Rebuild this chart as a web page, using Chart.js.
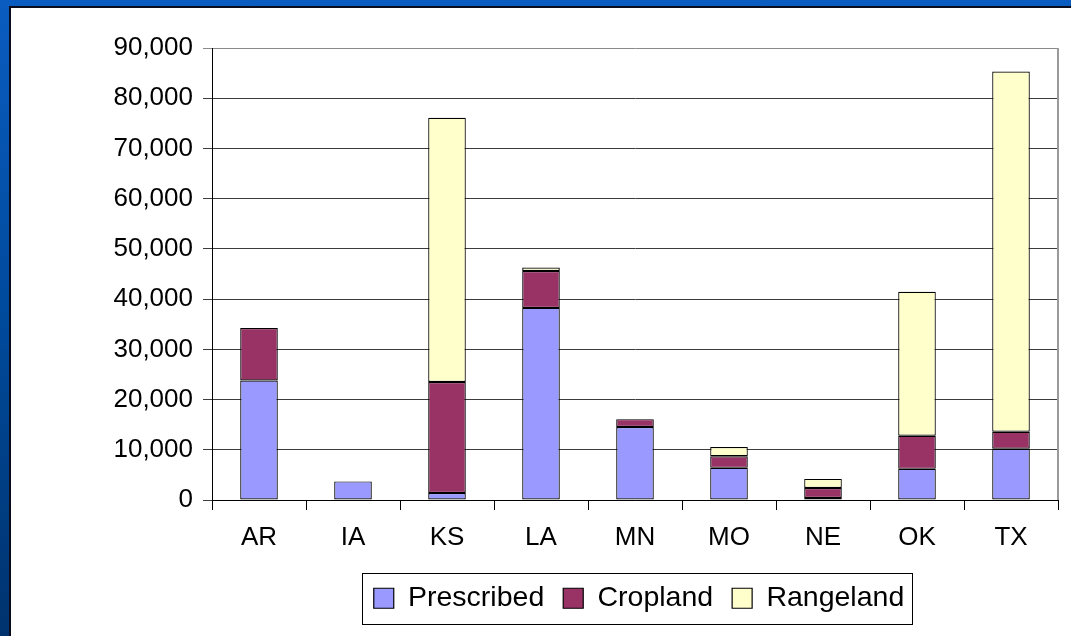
<!DOCTYPE html>
<html>
<head>
<meta charset="utf-8">
<script src="https://cdn.jsdelivr.net/npm/chart.js@4"></script>
<style>
  html, body { margin: 0; padding: 0; }
  body {
    width: 1071px; height: 636px; overflow: hidden;
    background: linear-gradient(to bottom, #0a5cc0 0%, #004a9c 50%, #00336e 100%);
    position: relative;
  }
  #panel {
    position: absolute; left: 9px; top: 6px;
    width: 1062px; height: 630px;
    border-left: 2px solid #0b0b1e; border-top: 2px solid #0b0b1e;
    box-sizing: border-box; background: #fff;
  }
  #chart { display: block; }
</style>
</head>
<body>
<div id="panel">
  <canvas id="chart" width="1060" height="628"></canvas>
</div>
<script>
// States on the x axis
const states = ['AR', 'IA', 'KS', 'LA', 'MN', 'MO', 'NE', 'OK', 'TX'];

// Acres burned by type, null = nothing drawn
const prescribed = [23800, 3700, 1400, 38250, 14550, 6400, 400, 6200, 10200];
const cropland   = [10450, null, 22100, 7350, 1550, 2300, 2000, 6600, 3400];
const rangeland  = [null, null, 52600, 700, null, 1850, 1800, 28650, 71700];

// y axis ticks
const yMax = 90000;
const yStep = 10000;

const font = { family: "'Liberation Sans', Arial, sans-serif", size: 26 };

// draws the gray plot frame on the right and the box around the legend
const framePlugin = {
  id: 'frame',
  afterLayout(chart) {
    // legend sits a little right of the plot centre
    chart.legend.left += 4;
    chart.legend.right += 4;
  },
  afterDraw(chart) {
    const { ctx, chartArea } = chart;
    ctx.save();
    ctx.strokeStyle = '#9a9a9a';
    ctx.lineWidth = 2;
    ctx.beginPath();
    ctx.moveTo(chartArea.right, chartArea.top);
    ctx.lineTo(chartArea.right, chartArea.bottom);
    ctx.stroke();

    const boxes = chart.legend.legendHitBoxes;
    if (boxes && boxes.length) {
      const left = Math.min(...boxes.map(b => b.left)) - 12;
      const right = Math.max(...boxes.map(b => b.left + b.width)) + 8;
      const top = boxes[0].top - 11;
      const bottom = boxes[0].top + boxes[0].height + 11;
      ctx.strokeStyle = '#000';
      ctx.lineWidth = 1;
      ctx.strokeRect(Math.round(left) + 0.5, Math.round(top) + 0.5,
        Math.round(right - left), Math.round(bottom - top));
    }
    ctx.restore();
  }
};

const makeSet = (label, data, color) => ({
  label: label,
  data: data,
  backgroundColor: color,
  borderColor: '#000',
  borderWidth: 1.2,
  borderSkipped: false,
  barPercentage: 0.4,
  categoryPercentage: 1
});

new Chart(document.getElementById('chart'), {
  type: 'bar',
  data: {
    labels: states,
    datasets: [
      makeSet('Prescribed', prescribed, '#9999ff'),
      makeSet('Cropland', cropland, '#993366'),
      makeSet('Rangeland', rangeland, '#ffffcc')
    ]
  },
  plugins: [framePlugin],
  options: {
    responsive: false,
    animation: false,
    layout: { padding: { top: 40, right: 13, bottom: 13.5, left: 0 } },
    scales: {
      x: {
        stacked: true,
        offset: true,
        grid: {
          offset: true,
          drawOnChartArea: false,
          color: '#000',
          tickLength: 10
        },
        border: { color: '#000', width: 1 },
        ticks: { color: '#000', font: font, padding: 12, maxRotation: 0 },
        afterFit(scale) { scale.height = 65; }
      },
      y: {
        stacked: true,
        min: 0,
        max: yMax,
        grid: {
          color: ctx => ctx.index === 9 ? '#8a8a8a' : '#3c3c3c',
          lineWidth: 1,
          tickLength: 9
        },
        border: { color: '#000', width: 1 },
        ticks: {
          stepSize: yStep,
          color: '#000',
          font: font,
          padding: 10,
          callback: v => v.toLocaleString('en-US')
        },
        afterFit(scale) { scale.width = 201; }
      }
    },
    plugins: {
      legend: {
        position: 'bottom',
        fullSize: false,
        labels: {
          color: '#000',
          font: { family: font.family, size: 28.5 },
          boxWidth: 20,
          boxHeight: 20,
          padding: 19
        }
      },
      tooltip: { enabled: false }
    }
  }
});
</script>
</body>
</html>
